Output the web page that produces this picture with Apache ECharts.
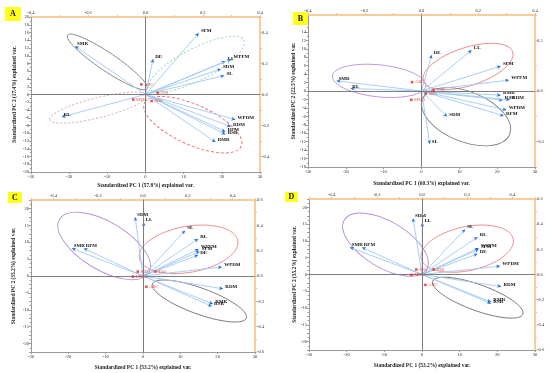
<!DOCTYPE html>
<html><head><meta charset="utf-8">
<script src="https://cdn.jsdelivr.net/npm/echarts@6/dist/echarts.min.js"></script>
<style>html,body{margin:0;padding:0;background:#fff}#c{width:550px;height:373px}</style>
</head><body><div id="c"></div><script>
// ---------- Panel A ----------
const varsA = ['SFM','SMR','DE','LL','WPFM','SDM','SL','RL','WPDM','RDM','RFM','RSR','RMR'];
const pc1A  = [14.0,-18.5,2.0,21.0,22.5,19.8,20.7,-22.0,23.6,22.4,21.0,21.0,18.4];
const pc2A  = [15.9,12.5,9.2,8.6,9.1,6.6,4.9,-5.8,-6.5,-8.3,-9.6,-10.3,-12.3];
const grpA  = ['ABC','TSS','SBS','MMA'];
const gx1A  = [-1.1,3.2,1.6,-3.2];
const gx2A  = [2.6,0.4,-1.7,-1.3];
// ---------- Panel B ----------
const varsB = ['DE','LL','SFM','WPFM','SMR','RL','RMR','RSR','RDM','WPDM','RFM','SDM','SL'];
const pc1B  = [2.7,13.3,21.0,23.2,-22.5,-18.8,21.0,21.5,23.4,22.5,21.8,6.8,2.2];
const pc2B  = [8.6,9.7,5.9,2.6,2.4,0.6,-1.0,-2.2,-2.1,-4.5,-5.9,-6.1,-12.6];
const grpB  = ['ABC','TSS','SBS','MMA'];
const gx1B  = [-2.5,3.2,1.1,-2.7];
const gx2B  = [2.1,0.2,-0.6,-2.1];
// ---------- Panel C ----------
const varsC = ['SDM','LL','SL','RL','WPFM','SFM','DE','WPDM','RDM','RMR','RSR','SMR','RFM'];
const pc1C  = [-2.1,0.2,11.3,14.8,15.0,15.2,14.8,21.2,21.5,18.8,18.5,-19.1,-15.9];
const pc2C  = [17.5,16.0,13.5,11.0,8.0,7.3,6.2,2.7,-3.8,-8.3,-9.0,8.2,8.2];
const grpC  = ['SBS','TSS','MMA','ABC'];
const gx1C  = [-1.4,3.3,-2.7,0.9];
const gx2C  = [1.3,1.3,-0.2,-3.2];
// ---------- Panel D ----------
const varsD = ['SDM','LL','SL','RL','WPFM','SFM','DE','WPDM','RDM','RMR','RSR','SMR','RFM'];
const pc1D  = [-2.4,0.1,11.5,14.8,15.1,15.1,14.8,20.8,21.1,18.4,18.4,-19.2,-16.0];
const pc2D  = [16.8,15.5,13.5,11.2,7.9,7.5,6.2,2.5,-3.6,-8.2,-8.7,8.1,8.1];
const grpD  = ['SBS','TSS','MMA','ABC'];
const gx1D  = [-1.5,3.1,-2.8,0.9];
const gx2D  = [1.5,1.5,-0.1,-3.1];
// axis titles
const xTitles = ['Standardized PC 1 (57.8%) explained var.','Standardized PC 1 (60.3%) explained var.','Standardized PC 1 (53.2%) explained var.','Standardized PC 1 (53.2%) explained var.'];
const yTitles = ['Standardized PC 2 (17.4%) explained var.','Standardized PC 2 (22.5%) explained var.','Standardized PC 2 (35.2%) explained var.','Standardized PC 2 (35.2%) explained var.'];
const panelLetters = ['A','B','C','D'];

// ---------- styling / layout ----------
const grids = [
  {left:31, top:17, width:229, height:155},
  {left:308, top:15, width:227, height:152},
  {left:31, top:200, width:224, height:152},
  {left:309, top:199, width:226, height:151}
];
// ellipse annotations: centre in data units, radii in px, angle deg (ccw)
const ellipses = [
  [{c:[-10.0,8.4], rx:48, ry:9, a:-34, col:'#8a8a8a', dash:'solid'},
   {c:[13.4,7.8], rx:53, ry:16, a:27, col:'#8fd9a8', dash:[2,2]},
   {c:[-12.4,-3.4], rx:50, ry:10, a:14, col:'#d9a3c9', dash:[2,2]},
   {c:[12.4,-7.8], rx:53, ry:20, a:-24, col:'#f06a6a', dash:[3,2]}],
  [{c:[-11.2,2.4], rx:47, ry:16, a:-6, col:'#b892d8', dash:'solid'},
   {c:[12.3,5.8], rx:47, ry:19, a:18, col:'#f08a8a', dash:'solid'},
   {c:[11.8,-6.1], rx:47, ry:25, a:-22, col:'#7a7a7a', dash:'solid'}],
  [{c:[-10.4,8.9], rx:52, ry:24, a:-31, col:'#b892d8', dash:'solid'},
   {c:[12.2,7.9], rx:50, ry:23, a:10, col:'#f08a8a', dash:'solid'},
   {c:[15.1,-7.4], rx:50, ry:13, a:-20, col:'#7a7a7a', dash:'solid'}],
  [{c:[-9.7,8.9], rx:48, ry:23, a:-31, col:'#b892d8', dash:'solid'},
   {c:[12.0,7.7], rx:47, ry:22, a:12, col:'#f08a8a', dash:'solid'},
   {c:[14.8,-6.9], rx:48, ry:13, a:-20, col:'#7a7a7a', dash:'solid'}]
];
const yLeft = [
  {min:-20,max:20,interval:2,step:2,dig:0},
  {min:-18,max:18,interval:2,step:2,dig:0},
  {min:-22.5,max:22.5,interval:2.5,step:5,dig:0},
  {min:-22.5,max:22.5,interval:2.5,step:5,dig:0}
];
const xTop = [
  {min:-0.4,max:0.4,interval:0.1,step:0.2},
  {min:-0.4,max:0.4,interval:0.1,step:0.2},
  {min:-0.5,max:0.5,interval:0.1,step:0.2},
  {min:-0.5,max:0.5,interval:0.1,step:0.2}
];
const yRight = [
  {min:-0.5,max:0.5,interval:0.1,step:0.2},
  {min:-0.75,max:0.75,interval:0.25,step:0.5},
  {min:-0.6,max:0.6,interval:0.1,step:0.2},
  {min:-0.6,max:0.6,interval:0.1,step:0.2}
];
const xNameGap = [11,14,13,13], yNameGap = [14,11,15,12];

const SERIF = 'Liberation Serif';
const ORANGE = '#f7bd7a';
function every(step, dig){
  return v => {const r=v/step; return Math.abs(r-Math.round(r))<1e-6 ? (dig? v.toFixed(dig) : String(Math.round(v))) : '';};
}
const lbl = {fontSize:4.6, color:'#333', fontFamily:SERIF, margin:2, showMinLabel:true, showMaxLabel:true};

const panels = [
  {vars:varsA,x:pc1A,y:pc2A,g:grpA,gx:gx1A,gy:gx2A},
  {vars:varsB,x:pc1B,y:pc2B,g:grpB,gx:gx1B,gy:gx2B},
  {vars:varsC,x:pc1C,y:pc2C,g:grpC,gx:gx1C,gy:gx2C},
  {vars:varsD,x:pc1D,y:pc2D,g:grpD,gx:gx1D,gy:gx2D}
];

const xAxis=[], yAxis=[], series=[], graphic=[];
panels.forEach((p,i)=>{
  xAxis.push({gridIndex:i, type:'value', position:'bottom', min:-30, max:30, interval:10,
    name:xTitles[i], nameLocation:'middle', nameGap:xNameGap[i],
    nameTextStyle:{fontSize:5.4, fontWeight:'bold', fontFamily:SERIF, color:'#222'},
    axisLine:{onZero:false, lineStyle:{color:'#9a9a9a', width:1}},
    axisTick:{length:2, lineStyle:{color:'#9a9a9a'}},
    minorTick:{show:true, splitNumber:2, length:1.2, lineStyle:{color:'#9a9a9a'}},
    splitLine:{show:false}, axisLabel:Object.assign({}, lbl)});
  xAxis.push({gridIndex:i, type:'value', position:'top', min:xTop[i].min, max:xTop[i].max, interval:xTop[i].interval,
    axisLine:{onZero:false, lineStyle:{color:ORANGE, width:1.5}},
    axisTick:{length:2, lineStyle:{color:ORANGE}},
    splitLine:{show:false}, axisLabel:Object.assign({}, lbl, {formatter:every(xTop[i].step,1)})});
  yAxis.push({gridIndex:i, type:'value', position:'left', min:yLeft[i].min, max:yLeft[i].max, interval:yLeft[i].interval,
    name:yTitles[i], nameLocation:'middle', nameGap:yNameGap[i], nameRotate:90,
    nameTextStyle:{fontSize:5.4, fontWeight:'bold', fontFamily:SERIF, color:'#222'},
    axisLine:{onZero:false, lineStyle:{color:'#9a9a9a', width:1}},
    axisTick:{length:2, lineStyle:{color:'#9a9a9a'}},
    minorTick:{show:true, splitNumber:2, length:1.2, lineStyle:{color:'#9a9a9a'}},
    splitLine:{show:false}, axisLabel:Object.assign({}, lbl, {formatter:every(yLeft[i].step,0)})});
  yAxis.push({gridIndex:i, type:'value', position:'right', min:yRight[i].min, max:yRight[i].max, interval:yRight[i].interval,
    axisLine:{onZero:false, lineStyle:{color:ORANGE, width:1.5}},
    axisTick:{length:2, lineStyle:{color:ORANGE}},
    splitLine:{show:false}, axisLabel:Object.assign({}, lbl, {formatter:every(yRight[i].step,1)})});
  const xi=2*i, yi=2*i;
  // ellipses
  const el = ellipses[i];
  series.push({type:'custom', xAxisIndex:xi, yAxisIndex:yi, silent:true, clip:false, z:2,
    data: el.map(e=>e.c),
    renderItem:(params, api)=>{
      const e = el[params.dataIndex];
      const c = api.coord([api.value(0), api.value(1)]);
      return {type:'ellipse', x:c[0], y:c[1], rotation:e.a*Math.PI/180,
        shape:{cx:0, cy:0, rx:e.rx, ry:e.ry},
        style:{fill:'none', stroke:e.col, lineWidth:0.9, lineDash:e.dash}};
    }});
  // loadings arrows
  series.push({type:'custom', xAxisIndex:xi, yAxisIndex:yi, silent:true, clip:false, z:4,
    data: p.x.map((v,k)=>[v, p.y[k]]),
    renderItem:(params, api)=>{
      const o = api.coord([0,0]);
      const t = api.coord([api.value(0), api.value(1)]);
      let dx=t[0]-o[0], dy=t[1]-o[1]; const L=Math.hypot(dx,dy)||1; dx/=L; dy/=L;
      const hl=4.2, hw=1.9;
      const bx=t[0]-dx*hl, by=t[1]-dy*hl;
      return {type:'group', children:[
        {type:'line', shape:{x1:o[0],y1:o[1],x2:bx+dx*1.5,y2:by+dy*1.5}, style:{stroke:'#a2c8f2', lineWidth:0.9}},
        {type:'polygon', shape:{points:[[t[0],t[1]],[bx-dy*hw, by+dx*hw],[bx+dx*1.2, by+dy*1.2],[bx+dy*hw, by-dx*hw]]}, style:{fill:'#1a6ede'}},
        {type:'text', x:t[0]+2, y:t[1]-2.2, style:{text:p.vars[params.dataIndex], fill:'#111', fontSize:5, fontWeight:'bold', fontFamily:SERIF, align:'left', verticalAlign:'middle'}}
      ]};
    }});
  // groups + zero lines
  series.push({type:'scatter', xAxisIndex:xi, yAxisIndex:yi, z:5, silent:true,
    symbol:'rect', symbolSize:2.6, itemStyle:{color:'#e8282a'},
    data: p.gx.map((v,k)=>({name:p.g[k], value:[v, p.gy[k]]})),
    label:{show:true, position:'right', distance:1.5, formatter:'{b}', color:'#e8282a', fontSize:4.6, fontFamily:SERIF},
    markLine:{silent:true, symbol:'none', animation:false, label:{show:false},
      lineStyle:{color:'#7d7d7d', width:1, type:'solid'},
      data:[{xAxis:0},{yAxis:0}]}});
  // panel letter
  const boxes=[[5,7,16,14],[293,12,15,13],[8,192,14,11],[285,192,13,10]];
  const b=boxes[i];
  graphic.push({type:'rect', left:b[0], top:b[1], shape:{width:b[2], height:b[3]}, style:{fill:'#ffff1a'}, z:10});
  graphic.push({type:'text', x:b[0]+b[2]/2, y:b[1]+b[3]/2, style:{text:panelLetters[i], fill:'#111', fontSize:8, fontWeight:'bold', fontFamily:SERIF, align:'center', verticalAlign:'middle'}, z:11});
});

const chart = echarts.init(document.getElementById('c'), null, {renderer:'canvas'});
chart.setOption({animation:false, backgroundColor:'#fff', grid:grids, xAxis, yAxis, series, graphic});
</script></body></html>
